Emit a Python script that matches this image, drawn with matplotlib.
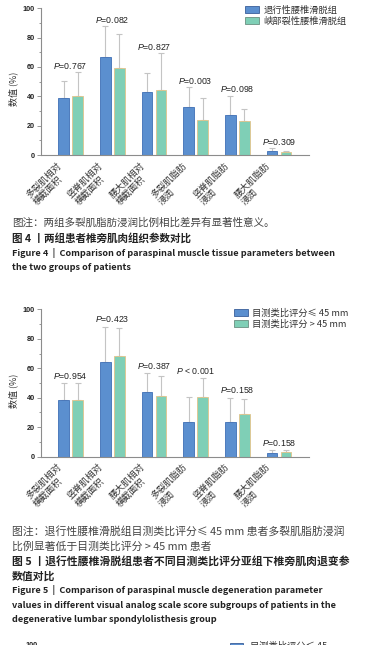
import matplotlib
matplotlib.use("Agg")
import matplotlib.pyplot as plt
from matplotlib.patches import Patch
import numpy as np

plt.rcParams['font.family'] = ['Noto Sans CJK SC', 'DejaVu Sans']
plt.rcParams['mathtext.fontset'] = 'custom'
plt.rcParams['mathtext.it'] = 'Liberation Sans:italic'
plt.rcParams['mathtext.rm'] = 'Liberation Sans'

# x categories (same for both panels)
categories = ['多裂肌相对\n横截面积', '竖脊肌相对\n横截面积', '腰大肌相对\n横截面积',
              '多裂肌脂肪\n浸润', '竖脊肌脂肪\n浸润', '腰大肌脂肪\n浸润']
yticks = [0, 20, 40, 60, 80, 100]

# Figure 4: two groups
fig4_labels = ['退行性腰椎滑脱组', '峡部裂性腰椎滑脱组']
fig4_blue = [39, 67, 43, 32.5, 27, 3]
fig4_blue_sd = [11.5, 21, 13, 14, 13.5, 2]
fig4_green = [40, 59, 44, 24, 23, 2]
fig4_green_sd = [16.5, 23.5, 25.5, 15, 8.5, 1]
fig4_p = ['$P$=0.767', '$P$=0.082', '$P$=0.827', '$P$=0.003', '$P$=0.098', '$P$=0.309']

# Figure 5: VAS subgroups
fig5_labels = ['目测类比评分≤ 45 mm', '目测类比评分 > 45 mm']
fig5_blue = [38.5, 64.5, 43.7, 23.8, 23.8, 2.5]
fig5_blue_sd = [11.3, 23.7, 12.9, 16.9, 16.2, 1.8]
fig5_green = [38.7, 68.3, 41.2, 40.3, 28.7, 3]
fig5_green_sd = [11.1, 19.3, 13.8, 12.9, 10.2, 1.3]
fig5_p = ['$P$=0.954', '$P$=0.423', '$P$=0.387', '$P$ < 0.001', '$P$=0.158', '$P$=0.158']

fig4_caption = ['图注：两组多裂肌脂肪浸润比例相比差异有显著性意义。']
fig4_title_cn = ['图 4 丨两组患者椎旁肌肉组织参数对比']
fig4_title_en = ['Figure 4  |  Comparison of paraspinal muscle tissue parameters between',
                 'the two groups of patients']
fig5_caption = ['图注：退行性腰椎滑脱组目测类比评分≤ 45 mm 患者多裂肌脂肪浸润',
                '比例显著低于目测类比评分 > 45 mm 患者']
fig5_title_cn = ['图 5 丨退行性腰椎滑脱组患者不同目测类比评分亚组下椎旁肌肉退变参',
                 '数值对比']
fig5_title_en = ['Figure 5  |  Comparison of paraspinal muscle degeneration parameter',
                 'values in different visual analog scale score subgroups of patients in the',
                 'degenerative lumbar spondylolisthesis group']

BLUE = '#5b8fcf'
BLUE_EDGE = '#3f6fb5'
GREEN = '#7fcfb6'
GREEN_EDGE = '#e3c48a'
W, H = 370, 645

fig = plt.figure(figsize=(3.7, 6.45), dpi=100)


def px(x, y):
    return x / W, 1 - y / H


def panel(top, bottom, blue, blue_sd, green, green_sd, plabels, leg_labels, leg_xy, poff):
    ax = fig.add_axes([41 / W, 1 - bottom / H, 268 / W, (bottom - top) / H])
    x = np.arange(len(categories))
    off, bw = 0.168, 0.26
    ax.bar(x - off, blue, bw, color=BLUE, edgecolor=BLUE_EDGE, linewidth=0.6, zorder=2)
    ax.bar(x + off, green, bw, color=GREEN, edgecolor=GREEN_EDGE, linewidth=0.6, zorder=2)
    ax.errorbar(x - off, blue, yerr=[np.zeros(len(x)), blue_sd], fmt='none',
                ecolor='#c4c4c4', elinewidth=0.8, capsize=2, capthick=0.8, zorder=1)
    ax.errorbar(x + off, green, yerr=[np.zeros(len(x)), green_sd], fmt='none',
                ecolor='#c4c4c4', elinewidth=0.8, capsize=2, capthick=0.8, zorder=1)
    tops = np.maximum(np.array(blue) + blue_sd, np.array(green) + green_sd)
    for xi, t, lab in zip(x, tops, plabels):
        ax.text(xi, t + poff, lab, ha='center', va='center', fontsize=6.3,
                family='Liberation Sans', color='#222222')
    ax.set_xlim(-0.71, 5.72)
    ax.set_ylim(0, 100)
    ax.set_yticks(yticks)
    ax.set_yticks(np.arange(10, 100, 20), minor=True)
    ax.set_yticklabels([str(v) for v in yticks], fontsize=5.2, family='Liberation Sans',
                       fontweight='bold', color='#222222')
    ax.set_xticks(x)
    ax.set_xticklabels(categories, rotation=45, ha='right', va='top', fontsize=6.6,
                       multialignment='left', color='#333333')
    ax.tick_params(axis='x', length=0, pad=4)
    ax.tick_params(axis='y', which='major', length=3, width=0.6, color='#888888', pad=1.5)
    ax.tick_params(axis='y', which='minor', length=1.5, width=0.6, color='#888888')
    for s in ['top', 'right']:
        ax.spines[s].set_visible(False)
    for s in ['left', 'bottom']:
        ax.spines[s].set_color('#8c8c8c')
        ax.spines[s].set_linewidth(0.8)
    ax.set_ylabel('数值 (%)', fontsize=6.5, color='#333333')
    ax.yaxis.set_label_coords(-0.085, 0.45)
    handles = [Patch(facecolor=BLUE, edgecolor='#3a5f9a', linewidth=0.6),
               Patch(facecolor=GREEN, edgecolor='#6a8f80', linewidth=0.6)]
    ax.legend(handles, leg_labels, loc='upper left', bbox_to_anchor=px(*leg_xy),
              bbox_transform=fig.transFigure, frameon=False, fontsize=6.7,
              handlelength=1.5, handleheight=0.8, handletextpad=0.5,
              labelspacing=0.2, borderpad=0, labelcolor='#333333')
    return ax


panel(8.3, 155, fig4_blue, fig4_blue_sd, fig4_green, fig4_green_sd, fig4_p,
      fig4_labels, (240, 1), 4.2)
panel(309.3, 456.7, fig5_blue, fig5_blue_sd, fig5_green, fig5_green_sd, fig5_p,
      fig5_labels, (229, 303.5), 5.2)


def lines(texts, y0, weight, color, size=7.6, step=15):
    for i, t in enumerate(texts):
        fig.text(*px(12, y0 + i * step), t, fontsize=size, fontweight=weight,
                 color=color, va='center', ha='left')


lines(fig4_caption, 222.7, 'normal', '#444444')
lines(fig4_title_cn, 238, 'bold', '#222222')
lines(fig4_title_en, 252.7, 'bold', '#222222', size=6.6)
lines(fig5_caption, 531, 'normal', '#444444', size=7.8, step=15.7)
lines(fig5_title_cn, 561, 'bold', '#222222', size=7.8)
lines(fig5_title_en, 590, 'bold', '#222222', size=6.6)

# start of the next figure, cut by the page edge
fig.text(*px(25, 642), '100', fontsize=5.2, fontweight='bold', family='Liberation Sans',
         va='top', color='#222222')
fig.patches.append(plt.Rectangle(px(230, 650), 13 / W, 7 / H, transform=fig.transFigure,
                                 facecolor=BLUE, edgecolor='#3a5f9a', linewidth=0.6))
fig.text(*px(250, 642), '目测类比评分≤ 45', fontsize=6.7, va='top', color='#333333')

fig.savefig('out.png', dpi=100)
